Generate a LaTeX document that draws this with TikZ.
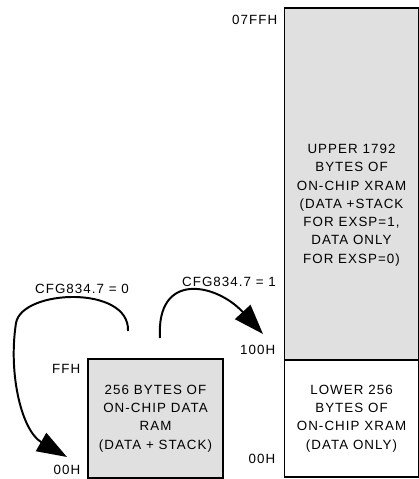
\documentclass[tikz,border=0pt]{standalone}
\usepackage{fontspec}
\setmainfont{Liberation Sans}[LetterSpace=8]
\usepackage{tikz}
\usetikzlibrary{arrows.meta}
\definecolor{ramgray}{gray}{0.88}

\begin{document}
\begin{tikzpicture}[font=\fontsize{9.5}{13}\selectfont,
    membox/.style={draw, line width=1.2pt, inner sep=0pt, align=center},
    addr/.style={anchor=east, inner sep=1pt},
    cfgarrow/.style={line width=1.4pt, -{Triangle[length=0.75cm, width=0.52cm]}}]
    \useasboundingbox (0,0) rectangle (10.475,11.975);

    % XRAM, upper part
    \node[membox, fill=ramgray, minimum width=3.35cm, minimum height=8.8cm] (upper) at (8.7875, 7.375) {};
    \node[align=center] (uppertxt) at (8.7875, 6.85)
        {UPPER 1792\\ BYTES OF\\ ON-CHIP XRAM\\ (DATA +STACK\\ FOR EXSP=1,\\ DATA ONLY\\ FOR EXSP=0)};

    % XRAM, lower part
    \node[membox, fill=white, minimum width=3.35cm, minimum height=2.925cm] (lower) at (8.7875, 1.5125)
        {LOWER 256\\ BYTES OF\\ ON-CHIP XRAM\\ (DATA ONLY)};

    % On-chip data RAM
    \node[membox, fill=ramgray, minimum width=3.375cm, minimum height=2.975cm] (dataram) at (3.8875, 1.5125)
        {256 BYTES OF\\ ON-CHIP DATA\\ RAM\\ (DATA + STACK)};

    % Addresses
    \node[addr] (a07ff) at (6.975, 11.475) {07FFH};
    \node[addr] (a100) at (6.925, 3.225) {100H};
    \node[addr] (a00r) at (6.925, 0.5) {00H};
    \node[addr] (aff) at (2.05, 2.75) {FFH};
    \node[addr] (a00l) at (2.05, 0.225) {00H};

    % Configuration bit
    \node (cfg0) at (2.05, 4.75) {CFG834.7 = 0};
    \node (cfg1) at (5.725, 4.925) {CFG834.7 = 1};

    % Arrows
    \coordinate (s0) at (3.2, 3.7);
    \coordinate (t0) at (1.675, 0.55);
    \coordinate (s1) at (4.0, 3.525);
    \coordinate (t1) at (6.575, 3.625);
    \draw[cfgarrow] (s0) .. controls (3.25, 4.85) and (0.55, 4.75) .. (0.4, 3.9)
        .. controls (0.2, 2.6) and (0.55, 1.2) .. (t0);
    \draw[cfgarrow] (s1) .. controls (3.9, 5.2) and (5.4, 4.9) .. (t1);

\end{tikzpicture}
\end{document}
